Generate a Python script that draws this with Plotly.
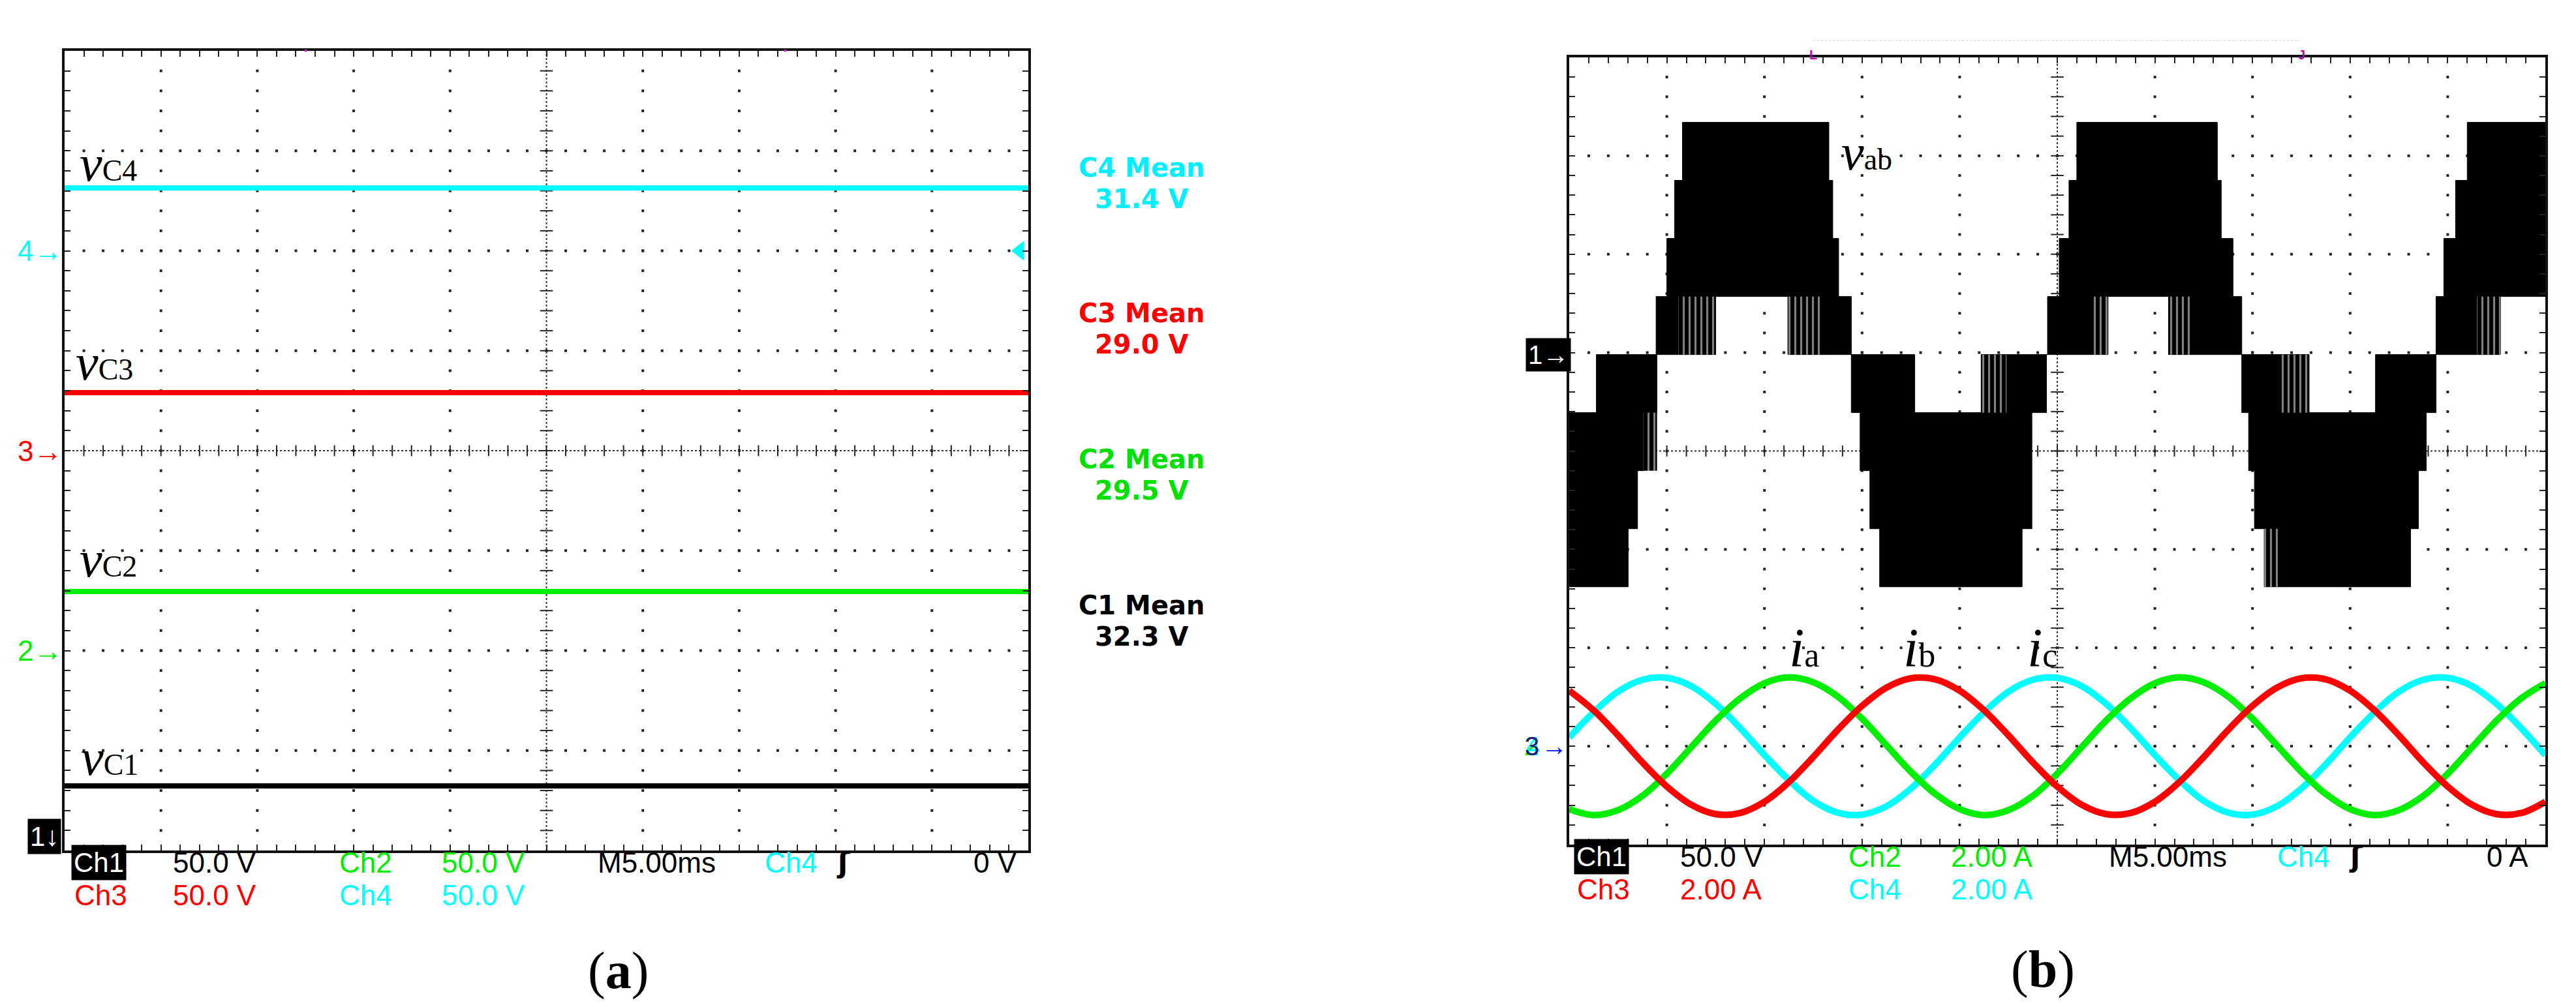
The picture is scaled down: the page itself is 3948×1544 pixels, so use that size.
import plotly.graph_objects as go

W, H = 3948, 1544

# ---------------- (a) capacitor voltages ----------------
cap_names = ["C1", "C2", "C3", "C4"]
cap_mean_v = [32.3, 29.5, 29.0, 31.4]
cap_ground_div = [-4, -2, 0, 2]
cap_colors = ["#000000", "#00ee00", "#ff0000", "#00ffff"]
cap_text_colors = ["#000000", "#00e000", "#ff0000", "#00f0ff"]
volts_per_div_a = 50.0
sweep_ms = [0, 50]

# ---------------- (b) vab and phase currents ----------------
vab_level_v = 29.5
vab_up_t = [0, 1.39, 4.45, 5.0, 5.4, 5.8, 13.3, 13.5, 13.8, 14.45, 17.7, 21.1,
            24.5, 25.1, 25.6, 26.0, 33.2, 33.4, 34.0, 34.45, 37.9, 41.3,
            44.4, 44.8, 45.4, 46.0, 50]
vab_up_lvl = [-1, 0, 1, 2, 3, 4, 3, 2, 1, 0, -1, 0,
              1, 2, 3, 4, 3, 2, 1, 0, -1, 0,
              1, 2, 3, 4, 4]
vab_lo_t = [0, 3.02, 3.5, 3.83, 4.49, 7.5, 11.2, 14.45, 14.9, 15.4, 15.9, 23.2,
            23.7, 24.45, 27.6, 30.7, 34.45, 34.8, 35.1, 35.6, 43.1, 43.5, 43.9,
            44.4, 47.7, 50]
vab_lo_lvl = [-4, -3, -2, -1, 0, 1, 0, -1, -2, -3, -4, -3,
              -1, 0, 1, 0, -1, -2, -3, -4, -3, -2, -1,
              0, 1, 1]
# sparse switching zones (black/white stripes)
stripe_t0 = [3.8, 5.6, 11.2, 21.1, 26.8, 30.7, 35.6, 36.3, 46.5]
stripe_t1 = [4.5, 7.5, 13.0, 22.4, 27.6, 31.9, 36.3, 37.9, 47.7]
stripe_lo = [-2, 0, 0, -1, 0, 0, -4, -1, 0]
stripe_hi = [-1, 1, 1, 0, 1, 1, -3, 0, 1]

t_i = [0, 1.25, 2.5, 3.75, 5, 6.25, 7.5, 8.75, 10, 11.25, 12.5, 13.75, 15, 16.25,
       17.5, 18.75, 20, 21.25, 22.5, 23.75, 25, 26.25, 27.5, 28.75, 30, 31.25,
       32.5, 33.75, 35, 36.25, 37.5, 38.75, 40, 41.25, 42.5, 43.75, 45, 46.25,
       47.5, 48.75, 50]
i_a = [-1.28, -1.40, -1.30, -1.01, -0.56, -0.02, 0.52, 0.97, 1.28, 1.40, 1.30, 1.01,
       0.56, 0.02, -0.52, -0.97, -1.28, -1.40, -1.30, -1.01, -0.56, -0.02, 0.52,
       0.97, 1.28, 1.40, 1.30, 1.01, 0.56, 0.02, -0.52, -0.97, -1.28, -1.40, -1.30,
       -1.01, -0.56, -0.02, 0.52, 0.97, 1.28]
i_b = [1.13, 0.73, 0.22, -0.33, -0.82, -1.19, -1.38, -1.36, -1.13, -0.73, -0.22, 0.33,
       0.82, 1.19, 1.38, 1.36, 1.13, 0.73, 0.22, -0.33, -0.82, -1.19, -1.38, -1.36,
       -1.13, -0.73, -0.22, 0.33, 0.82, 1.19, 1.38, 1.36, 1.13, 0.73, 0.22, -0.33,
       -0.82, -1.19, -1.38, -1.36, -1.13]
i_c = [0.18, 0.69, 1.11, 1.35, 1.39, 1.22, 0.86, 0.37, -0.18, -0.69, -1.11, -1.35,
       -1.39, -1.22, -0.86, -0.37, 0.18, 0.69, 1.11, 1.35, 1.39, 1.22, 0.86, 0.37,
       -0.18, -0.69, -1.11, -1.35, -1.39, -1.22, -0.86, -0.37, 0.18, 0.69, 1.11,
       1.35, 1.39, 1.22, 0.86, 0.37, -0.18]
ch1_ground_div_b = 0.98
cur_ground_div_b = -3
volts_per_div_b = 50.0
amps_per_div_b = 2.0

CYAN, RED, GREEN = "#00ffff", "#ff0000", "#00ee00"
SCOPE_FONT = "Liberation Sans, Arial, sans-serif"
SERIF = "Liberation Serif, Times New Roman, serif"


def rng(ground, per_div):
    return [(-4 - ground) * per_div, (4 - ground) * per_div]


fig = go.Figure()


def graticule(xa, ya):
    # dotted division lines
    gx, gy = [], []
    for k in range(1, 10):
        if k == 5:
            continue
        for m in range(1, 40):
            gx.append(k * 5)
            gy.append(-4 + m * 0.2)
    for k in [-3, -2, -1, 1, 2, 3]:
        for m in range(1, 50):
            gx.append(m)
            gy.append(k)
    fig.add_trace(go.Scatter(x=gx, y=gy, mode="markers", xaxis=xa, yaxis=ya,
                             marker=dict(size=4, color="#222", symbol="square"),
                             hoverinfo="skip", showlegend=False))
    # centre cross with small ticks
    fig.add_trace(go.Scatter(x=[0, 50, None, 25, 25], y=[0, 0, None, -4, 4],
                             mode="lines", xaxis=xa, yaxis=ya,
                             line=dict(color="#333", width=2, dash="dot"),
                             hoverinfo="skip", showlegend=False))
    fig.add_trace(go.Scatter(x=list(range(1, 50)), y=[0] * 49, mode="markers",
                             xaxis=xa, yaxis=ya,
                             marker=dict(symbol="line-ns", size=12,
                                         line=dict(width=2, color="#222")),
                             hoverinfo="skip", showlegend=False))
    fig.add_trace(go.Scatter(x=[25] * 39, y=[-4 + m * 0.2 for m in range(1, 40)],
                             mode="markers", xaxis=xa, yaxis=ya,
                             marker=dict(symbol="line-ew", size=14,
                                         line=dict(width=2, color="#222")),
                             hoverinfo="skip", showlegend=False))


graticule("x", "y")
graticule("x2", "y6")

# ---- (a) traces ----
for i, name in enumerate(cap_names):
    fig.add_trace(go.Scatter(x=sweep_ms, y=[cap_mean_v[i]] * 2, mode="lines",
                             xaxis="x", yaxis=f"y{i + 2}",
                             line=dict(color=cap_colors[i], width=8),
                             name=name, showlegend=False))
# C4 reference marker at right edge
fig.add_trace(go.Scatter(x=[49.55], y=[0], mode="markers", xaxis="x", yaxis="y5",
                         marker=dict(symbol="triangle-left", size=26, color=CYAN),
                         showlegend=False, hoverinfo="skip"))

# ---- (b) vab ----
fig.add_trace(go.Scatter(x=vab_lo_t, y=[k * vab_level_v for k in vab_lo_lvl],
                         mode="lines", line=dict(color="black", width=1, shape="hv"),
                         xaxis="x2", yaxis="y7", showlegend=False))
fig.add_trace(go.Scatter(x=vab_up_t, y=[k * vab_level_v for k in vab_up_lvl],
                         mode="lines", line=dict(color="black", width=1, shape="hv"),
                         fill="tonexty", fillcolor="black",
                         xaxis="x2", yaxis="y7", showlegend=False))
sx, sy = [], []
for t0, t1, lo, hi in zip(stripe_t0, stripe_t1, stripe_lo, stripe_hi):
    sx += [t0, t1, t1, t0, t0, None]
    sy += [lo * vab_level_v, lo * vab_level_v, hi * vab_level_v, hi * vab_level_v,
           lo * vab_level_v, None]
fig.add_trace(go.Scatter(x=sx, y=sy, mode="lines", fill="toself",
                         line=dict(width=0, color="black"),
                         fillpattern=dict(shape="|", fgcolor="white", bgcolor="black",
                                          size=9, solidity=0.35),
                         xaxis="x2", yaxis="y7", showlegend=False, hoverinfo="skip"))

# ---- (b) currents ----
for vals, col, nm in [(i_c, CYAN, "ic"), (i_a, GREEN, "ia"), (i_b, RED, "ib")]:
    fig.add_trace(go.Scatter(x=t_i, y=vals, mode="lines", xaxis="x2", yaxis="y8",
                             line=dict(color=col, width=10, shape="spline", smoothing=1.0),
                             name=nm, showlegend=False))

A_X = [91 / W, 1568 / W]
A_Y = [1 - 1296 / H, 1 - 70 / H]
B_X = [2397 / W, 3893 / W]
B_Y = [1 - 1287 / H, 1 - 80 / H]

base_x = dict(range=[0, 50], showgrid=False, zeroline=False, showticklabels=False,
              showline=True, linewidth=4, linecolor="#111", mirror="ticks",
              ticks="inside", tick0=0, dtick=1, ticklen=9, tickwidth=2,
              tickcolor="#222", fixedrange=True)
base_y = dict(range=[-4, 4], showgrid=False, zeroline=False, showticklabels=False,
              showline=True, linewidth=4, linecolor="#111", mirror="ticks",
              ticks="inside", tick0=-4, dtick=0.2, ticklen=9, tickwidth=2,
              tickcolor="#222", fixedrange=True)
hidden = dict(visible=False, showgrid=False, zeroline=False, fixedrange=True)

layout = dict(
    width=W, height=H, margin=dict(l=0, r=0, t=0, b=0),
    paper_bgcolor="white", plot_bgcolor="white", showlegend=False,
    xaxis=dict(base_x, domain=A_X, anchor="y"),
    yaxis=dict(base_y, domain=A_Y, anchor="x"),
    xaxis2=dict(base_x, domain=B_X, anchor="y6"),
    yaxis6=dict(base_y, domain=B_Y, anchor="x2"),
    yaxis7=dict(hidden, overlaying="y6", anchor="x2",
                range=rng(ch1_ground_div_b, volts_per_div_b)),
    yaxis8=dict(hidden, overlaying="y6", anchor="x2",
                range=rng(cur_ground_div_b, amps_per_div_b)),
)
for i in range(4):
    layout[f"yaxis{i + 2}"] = dict(hidden, overlaying="y", anchor="x",
                                   range=rng(cap_ground_div[i], volts_per_div_a))
fig.update_layout(**layout)


def note(text, x, y, size, color="black", family=SCOPE_FONT, xanchor="left",
         yanchor="middle", **kw):
    fig.add_annotation(text=text, x=x / W, y=1 - y / H, xref="paper", yref="paper",
                       showarrow=False, xanchor=xanchor, yanchor=yanchor,
                       font=dict(size=size, color=color, family=family), **kw)


# ---- (a) trace labels ----
for sub, (x, y) in zip(["C4", "C3", "C2", "C1"],
                       [(112, 242), (106, 548), (112, 850), (114, 1153)]):
    note(f"<i>v</i><span style='font-size:46px'>{sub}</span>", x, y, 78,
         family=SERIF)

# mean readouts
mean_y = {"C4": (249, 297), "C3": (472, 520), "C2": (696, 744), "C1": (920, 968)}
for i, name in enumerate(cap_names):
    y1, y2 = mean_y[name]
    fnt = dict(size=40, color=cap_text_colors[i], family="DejaVu Sans", weight="bold")
    for txt, yy in [(f"{name} Mean", y1), (f"{cap_mean_v[i]:.1f} V", y2)]:
        fig.add_annotation(text=txt, x=1742 / W, y=1 - yy / H, xref="paper",
                           yref="paper", showarrow=False, xanchor="center",
                           yanchor="middle", font=fnt)

# ground markers (a)
for i, col in [(3, CYAN), (2, RED), (1, GREEN)]:
    fig.add_annotation(text=f"{i + 1}→", x=89 / W, xref="paper", y=0,
                       yref=f"y{i + 2}", showarrow=False, xanchor="right",
                       yanchor="middle", font=dict(size=44, color=col, family=SCOPE_FONT))
note("1↓", 60, 1274, 42, "white", xanchor="center", bgcolor="black", borderpad=3)

# status rows (a)
R1A, R2A = 1314, 1364
note("Ch1", 101, R1A, 42, "white", bgcolor="black", borderpad=3)
for txt, x, y, col in [("50.0 V", 255, R1A, "black"), ("Ch2", 510, R1A, GREEN),
                       ("50.0 V", 667, R1A, GREEN), ("M5.00ms", 906, R1A, "black"),
                       ("Ch4", 1162, R1A, CYAN), ("0 V", 1482, R1A, "black"),
                       ("Ch3", 104, R2A, RED), ("50.0 V", 255, R2A, RED),
                       ("Ch4", 510, R2A, CYAN), ("50.0 V", 667, R2A, CYAN)]:
    note(txt, x, y, 44, col)
note("<b>ʃ</b>", 1272, R1A, 44, "black", "DejaVu Sans")
note("(<b>a</b>)", 939, 1480, 80, family=SERIF, xanchor="center")

# ---- (b) labels ----
note("<i>v</i><span style='font-size:46px'>ab</span>", 2812, 226, 78, family=SERIF)
for sub, x in [("a", 2732), ("b", 2907), ("c", 3097)]:
    note(f"<i>i</i><span style='font-size:52px'>{sub}</span>", x, 985, 84,
         family=SERIF)

fig.add_annotation(text="1→", x=2365 / W, xref="paper", y=0, yref="y7",
                   showarrow=False, xanchor="center", yanchor="middle",
                   bgcolor="black", borderpad=3,
                   font=dict(size=40, color="white", family=SCOPE_FONT))
for txt, col, dx in [("2", GREEN, 0), ("4", CYAN, 2), ("3", "#1a1a7a", 1)]:
    fig.add_annotation(text=txt, x=(2352 + dx) / W, xref="paper", y=0, yref="y8",
                       showarrow=False, xanchor="right", yanchor="middle",
                       font=dict(size=40, color=col, family=SCOPE_FONT))
fig.add_annotation(text="→", x=2396 / W, xref="paper", y=0, yref="y8",
                   showarrow=False, xanchor="right", yanchor="middle",
                   font=dict(size=40, color="#0010ff", family=SCOPE_FONT))

R1B, R2B = 1305, 1355
note("Ch1", 2404, R1B, 42, "white", bgcolor="black", borderpad=3)
for txt, x, y, col in [("50.0 V", 2565, R1B, "black"), ("Ch2", 2823, R1B, GREEN),
                       ("2.00 A", 2980, R1B, GREEN), ("M5.00ms", 3222, R1B, "black"),
                       ("Ch4", 3480, R1B, CYAN), ("0 A", 3801, R1B, "black"),
                       ("Ch3", 2407, R2B, RED), ("2.00 A", 2565, R2B, RED),
                       ("Ch4", 2823, R2B, CYAN), ("2.00 A", 2980, R2B, CYAN)]:
    note(txt, x, y, 44, col)
note("<b>ʃ</b>", 3590, R1B, 44, "black", "DejaVu Sans")
note("(<b>b</b>)", 3123, 1478, 80, family=SERIF, xanchor="center")

# cursor markers on top edges
for xv in [12.5, 37.4]:
    fig.add_annotation(text="▪", x=xv, xref="x", y=1 - 57 / H, yref="paper",
                       showarrow=False, font=dict(size=14, color="#cc22cc"))
fig.add_shape(type="line", xref="x2", yref="paper", x0=12.5, x1=37.5,
              y0=1 - 54 / H, y1=1 - 54 / H, line=dict(color="#c8c8c8", width=1, dash="dot"))
for txt, xv in [("L", 12.5), ("J", 37.5)]:
    fig.add_annotation(text=f"<b>{txt}</b>", x=xv, xref="x2", y=1 - 63 / H,
                       yref="paper", showarrow=False,
                       font=dict(size=20, color="#aa11aa", family=SCOPE_FONT))

fig.write_html("out.html")
